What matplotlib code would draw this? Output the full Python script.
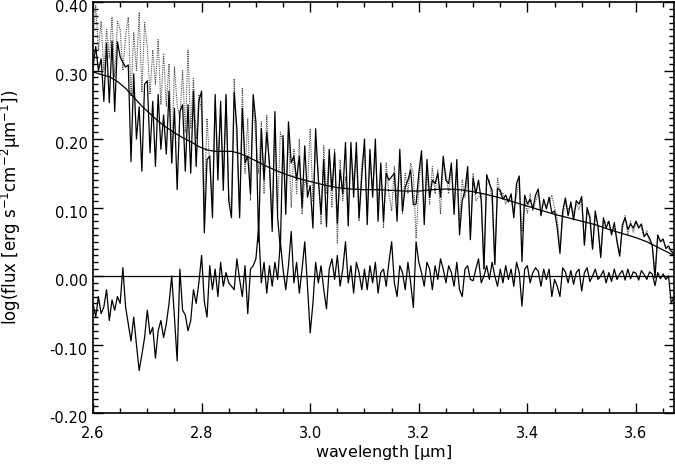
import numpy as np
import matplotlib
matplotlib.use("Agg")
import matplotlib.pyplot as plt
import matplotlib.transforms as mtransforms
from matplotlib.ticker import MultipleLocator, FormatStrFormatter

# wavelength grid of the spectra (micron), 0.005 step
wl = np.linspace(2.600, 3.670, 215)

# model spectrum (dotted)
model = [
    0.345, 0.395, 0.330, 0.372, 0.300, 0.360, 0.318, 0.378, 0.290, 0.372,
    0.360, 0.300, 0.350, 0.378, 0.262, 0.355, 0.300, 0.385, 0.268, 0.370,
    0.335, 0.265, 0.330, 0.280, 0.345, 0.250, 0.325, 0.248, 0.310, 0.165,
    0.305, 0.250, 0.230, 0.300, 0.210, 0.330, 0.215, 0.290, 0.200, 0.265,
    0.240, 0.100, 0.230, 0.160, 0.105, 0.255, 0.170, 0.235, 0.140, 0.260,
    0.120, 0.100, 0.288, 0.190, 0.090, 0.275, 0.150, 0.230, 0.110, 0.250,
    0.200, 0.150, 0.225, 0.120, 0.235, 0.150, 0.080, 0.220, 0.090, 0.210,
    0.195, 0.110, 0.210, 0.100, 0.185, 0.120, 0.200, 0.090, 0.140, 0.130,
    0.215, 0.110, 0.195, 0.150, 0.075, 0.190, 0.120, 0.175, 0.100, 0.185,
    0.047, 0.170, 0.110, 0.145, 0.083, 0.180, 0.140, 0.175, 0.080, 0.165,
    0.190, 0.095, 0.170, 0.125, 0.180, 0.105, 0.160, 0.070, 0.165, 0.120,
    0.095, 0.160, 0.110, 0.170, 0.090, 0.150, 0.120, 0.165, 0.150, 0.055,
    0.130, 0.178, 0.090, 0.150, 0.105, 0.160, 0.120, 0.155, 0.090, 0.165,
    0.150, 0.120, 0.160, 0.105, 0.150, 0.080, 0.140, 0.115, 0.145, 0.058,
    0.150, 0.110, 0.115, 0.120, 0.010, 0.133, 0.140, 0.105, 0.017, 0.143,
    0.118, 0.122, 0.105, 0.113, 0.112, 0.095, 0.118, 0.140, 0.065, 0.110,
    0.092, 0.120, 0.095, 0.108, 0.122, 0.100, 0.104, 0.103, 0.107, 0.118,
    0.100, 0.083, 0.040, 0.085, 0.108, 0.097, 0.102, 0.092, 0.105, 0.097,
    0.112, 0.045, 0.092, 0.090, 0.040, 0.088, 0.075, 0.030, 0.080, 0.078,
    0.078, 0.066, 0.070, 0.055, 0.030, 0.068, 0.088, 0.060, 0.080, 0.064,
    0.078, 0.074, 0.070, 0.056, 0.066, 0.050, 0.043, 0.005, 0.056, 0.053,
    0.050, 0.044, 0.040, 0.038, 0.030,
]

# observed spectrum (solid)
observed = [
    0.305, 0.335, 0.300, 0.317, 0.255, 0.340, 0.253, 0.343, 0.240, 0.342,
    0.320, 0.312, 0.305, 0.308, 0.167, 0.295, 0.200, 0.247, 0.153, 0.280,
    0.285, 0.180, 0.255, 0.160, 0.265, 0.185, 0.235, 0.178, 0.270, 0.165,
    0.245, 0.126, 0.240, 0.250, 0.153, 0.250, 0.150, 0.270, 0.160, 0.255,
    0.270, 0.063, 0.170, 0.175, 0.085, 0.265, 0.140, 0.255, 0.125, 0.265,
    0.110, 0.085, 0.268, 0.215, 0.085, 0.245, 0.165, 0.175, 0.120, 0.265,
    0.225, 0.050, 0.215, 0.140, 0.210, 0.165, 0.065, 0.240, 0.085, 0.040,
    0.205, 0.090, 0.225, 0.165, 0.175, 0.140, 0.175, 0.100, 0.190, 0.115,
    0.132, 0.070, 0.215, 0.140, 0.090, 0.170, 0.072, 0.185, 0.125, 0.180,
    0.077, 0.155, 0.120, 0.195, 0.073, 0.195, 0.115, 0.195, 0.085, 0.145,
    0.200, 0.075, 0.185, 0.115, 0.200, 0.080, 0.165, 0.080, 0.150, 0.140,
    0.145, 0.150, 0.080, 0.185, 0.095, 0.130, 0.140, 0.155, 0.104, 0.105,
    0.150, 0.183, 0.075, 0.170, 0.115, 0.140, 0.135, 0.150, 0.115, 0.175,
    0.140, 0.135, 0.165, 0.090, 0.170, 0.060, 0.110, 0.125, 0.160, 0.053,
    0.143, 0.120, 0.140, 0.110, 0.010, 0.148, 0.135, 0.125, 0.017, 0.128,
    0.125, 0.112, 0.118, 0.108, 0.120, 0.085, 0.135, 0.146, 0.021, 0.118,
    0.105, 0.112, 0.098, 0.118, 0.127, 0.088, 0.112, 0.098, 0.115, 0.092,
    0.095, 0.070, 0.033, 0.095, 0.114, 0.088, 0.108, 0.082, 0.110, 0.105,
    0.116, 0.045, 0.100, 0.085, 0.039, 0.095, 0.072, 0.027, 0.085, 0.070,
    0.080, 0.060, 0.078, 0.050, 0.029, 0.075, 0.085, 0.068, 0.076, 0.070,
    0.080, 0.070, 0.076, 0.058, 0.062, 0.055, 0.045, -0.003, 0.060, 0.050,
    0.054, 0.040, 0.044, 0.036, 0.032,
]

# residual (observed - model)
residual = [
    -0.040, -0.060, -0.030, -0.055, -0.045, -0.020, -0.065, -0.035, -0.050, -0.030,
    -0.040, 0.012, -0.045, -0.070, -0.095, -0.060, -0.100, -0.138, -0.115, -0.090,
    -0.050, -0.085, -0.075, -0.120, -0.080, -0.065, -0.090, -0.070, -0.040, 0.000,
    -0.060, -0.124, 0.010, -0.050, -0.057, -0.080, -0.065, -0.020, -0.040, -0.010,
    0.030, -0.037, -0.060, 0.015, -0.020, 0.010, -0.030, 0.020, -0.015, 0.005,
    -0.010, -0.015, -0.020, 0.025, -0.005, -0.030, 0.015, -0.055, 0.010, 0.015,
    0.025, 0.070, -0.010, 0.020, -0.025, 0.015, -0.015, 0.020, -0.005, 0.050,
    0.010, -0.020, 0.015, 0.065, -0.010, 0.020, -0.025, 0.010, 0.050, -0.015,
    -0.083, -0.040, 0.020, -0.010, 0.015, -0.020, -0.048, 0.010, 0.025, -0.005,
    0.030, -0.015, 0.010, 0.050, -0.010, 0.015, -0.025, 0.020, 0.005, -0.020,
    0.010, -0.020, 0.015, -0.010, 0.020, -0.025, 0.005, 0.010, -0.015, 0.020,
    0.050, -0.010, -0.030, 0.015, 0.005, -0.020, 0.020, -0.010, -0.046, 0.050,
    0.020, 0.005, -0.015, 0.020, 0.010, -0.020, 0.015, -0.005, 0.025, 0.010,
    -0.010, 0.015, 0.005, -0.015, 0.020, -0.020, -0.030, 0.010, 0.015, -0.005,
    -0.007, 0.010, 0.025, -0.010, 0.000, 0.015, -0.005, 0.020, 0.000, -0.015,
    0.010, -0.010, 0.015, -0.005, 0.010, -0.015, 0.020, 0.005, -0.044, 0.010,
    0.015, -0.010, 0.005, 0.012, 0.007, -0.015, 0.010, -0.005, 0.010, -0.030,
    -0.005, -0.015, -0.030, 0.012, 0.006, -0.010, 0.008, -0.012, 0.005, 0.010,
    -0.022, 0.005, 0.012, -0.008, 0.000, 0.010, -0.005, 0.000, 0.008, -0.010,
    0.005, -0.008, 0.010, -0.005, 0.003, 0.008, -0.006, 0.010, -0.004, 0.006,
    0.004, -0.006, 0.008, 0.002, -0.005, 0.006, 0.003, -0.014, 0.005, -0.004,
    0.003, -0.005, 0.000, -0.040, -0.030,
]

# smooth continuum
cont_wl = [2.600, 2.615, 2.630, 2.645, 2.660, 2.675, 2.690, 2.705, 2.720, 2.735,
           2.750, 2.765, 2.780, 2.795, 2.810, 2.825, 2.840, 2.855, 2.870, 2.885,
           2.900, 2.920, 2.940, 2.960, 2.980, 3.000, 3.025, 3.050, 3.075, 3.100,
           3.125, 3.150, 3.175, 3.200, 3.225, 3.250, 3.275, 3.300, 3.325, 3.350,
           3.375, 3.400, 3.425, 3.450, 3.475, 3.500, 3.525, 3.550, 3.575, 3.600,
           3.620, 3.640, 3.655, 3.670]
cont = [0.298, 0.294, 0.291, 0.284, 0.274, 0.261, 0.248, 0.237, 0.226, 0.217,
        0.209, 0.202, 0.196, 0.189, 0.184, 0.182, 0.182, 0.182, 0.179, 0.174,
        0.168, 0.160, 0.153, 0.147, 0.142, 0.138, 0.133, 0.129, 0.127, 0.126,
        0.126, 0.125, 0.124, 0.124, 0.126, 0.127, 0.126, 0.123, 0.119, 0.114,
        0.108, 0.102, 0.096, 0.090, 0.085, 0.080, 0.075, 0.068, 0.062, 0.056,
        0.050, 0.042, 0.036, 0.030]

xlim = (2.6, 3.67)
ylim = (-0.2, 0.4)

plt.rcParams['font.family'] = ['DejaVu Sans']
plt.rcParams['mathtext.fontset'] = 'dejavusans'
plt.rcParams['mathtext.default'] = 'regular'

fig = plt.figure(figsize=(6.75, 4.66), dpi=100)
ax = fig.add_axes([93/675, 1 - 413/466, 581/675, 411/466])

ax.plot(wl, model, color='#505050', lw=0.8, linestyle=(0, (1, 1)))
ax.plot(wl, observed, color='black', lw=0.9)
ax.plot(cont_wl, cont, color='black', lw=0.9)
ax.axhline(0.0, color='black', lw=0.9)
ax.plot(wl, residual, color='black', lw=0.9)

ax.set_xlim(*xlim)
ax.set_ylim(*ylim)

ax.xaxis.set_major_locator(MultipleLocator(0.2))
ax.xaxis.set_minor_locator(MultipleLocator(0.05))
ax.yaxis.set_major_locator(MultipleLocator(0.1))
ax.yaxis.set_minor_locator(MultipleLocator(0.01))
ax.xaxis.set_major_formatter(FormatStrFormatter('%.1f'))
ax.yaxis.set_major_formatter(FormatStrFormatter('%.2f'))

ax.tick_params(which='both', direction='in', top=True, right=True, width=1.0,
               labelsize=10.5, colors='black')
ax.tick_params(which='major', length=7)
ax.tick_params(which='minor', length=3.5)
ax.tick_params(axis='x', pad=9)
ax.tick_params(axis='y', pad=4)
for s in ax.spines.values():
    s.set_linewidth(1.2)

# shift y tick labels slightly downward, as in the reference
shift = mtransforms.ScaledTranslation(0, -4/100, fig.dpi_scale_trans)
for lab in ax.get_yticklabels():
    lab.set_transform(lab.get_transform() + shift)

ax.set_xlabel(r'wavelength [$\mu$m]', fontsize=11.5)
ax.set_ylabel(r'log(flux [erg s$^{-1}$cm$^{-2}$$\mu$m$^{-1}$])', fontsize=12)
ax.xaxis.set_label_coords(0.5, -0.074)
ax.yaxis.set_label_coords(-0.12, 0.5)

fig.savefig('out.png', dpi=100)
